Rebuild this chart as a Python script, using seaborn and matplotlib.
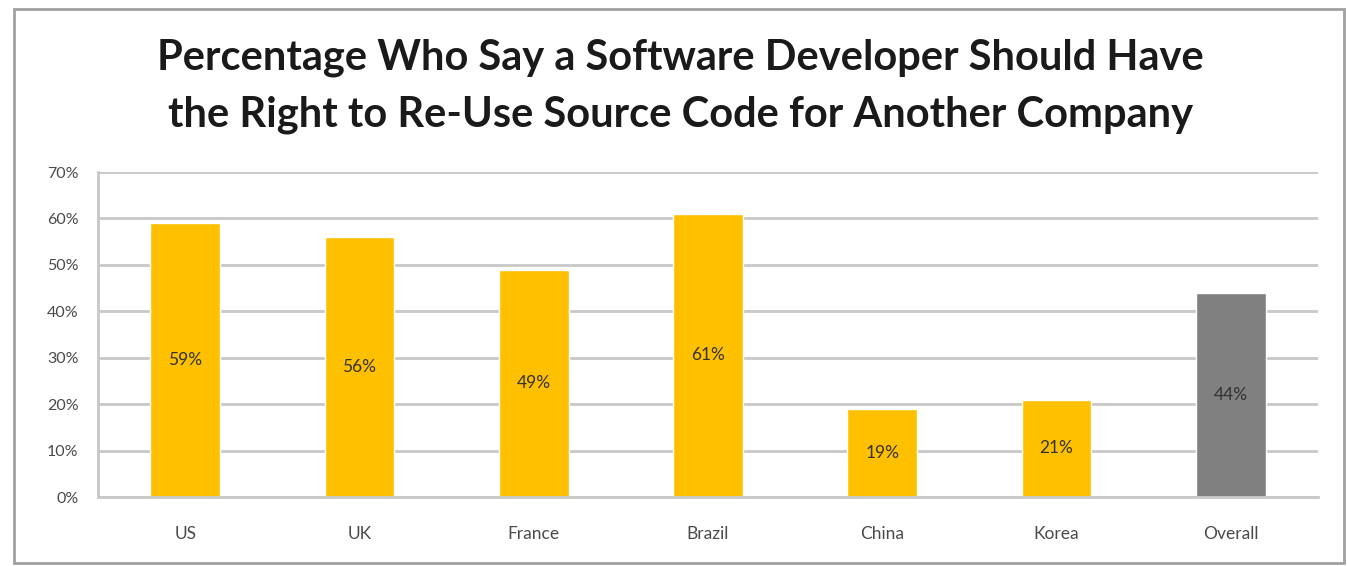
import matplotlib
matplotlib.use("Agg")
import matplotlib.pyplot as plt
import seaborn as sns
import pandas as pd
from matplotlib.patches import Rectangle
from matplotlib.ticker import PercentFormatter

# data
countries = ["US", "UK", "France", "Brazil", "China", "Korea", "Overall"]
percent = [59, 56, 49, 61, 19, 21, 44]
group = ["country", "country", "country", "country", "country", "country", "overall"]
yticks = [0, 10, 20, 30, 40, 50, 60, 70]

df = pd.DataFrame({"Country": countries, "Percent": percent, "Group": group})

sns.set_style("white")
plt.rcParams["font.family"] = ["Lato", "DejaVu Sans"]

fig = plt.figure(figsize=(13.47, 5.66), dpi=100)
ax = fig.add_axes([0.0728, 0.1219, 0.9057, 0.5742])

sns.barplot(
    data=df, x="Country", y="Percent", hue="Group",
    palette={"country": "#FFC000", "overall": "#808080"},
    saturation=1, dodge=False, width=0.4, legend=False, ax=ax
)

for cont in ax.containers:
    ax.bar_label(cont, labels=[f"{v:.0f}%" for v in cont.datavalues],
                 label_type="center", fontsize=12.5, color="#333333")

ax.set_xlim(-0.5, len(countries) - 0.5)
ax.set_ylim(0, 70)
ax.set_yticks(yticks)
ax.yaxis.set_major_formatter(PercentFormatter(decimals=0))
ax.set_xlabel("")
ax.set_ylabel("")

ax.grid(axis="y", color="#c8c8c8", linewidth=2)
ax.set_axisbelow(True)
for s in ["top", "right"]:
    ax.spines[s].set_visible(False)
for s in ["left", "bottom"]:
    ax.spines[s].set_color("#c8c8c8")
    ax.spines[s].set_linewidth(2)

ax.tick_params(axis="y", length=6, width=2, color="#c8c8c8", labelsize=11.5,
               labelcolor="#4a4a4a", pad=8)
ax.tick_params(axis="x", which="major", length=0, labelsize=12.5,
               labelcolor="#4a4a4a", pad=21)
ax.set_xticks([i + 0.5 for i in range(-1, len(countries))], minor=True)
ax.tick_params(axis="x", which="minor", length=6, width=2, color="#c8c8c8")

fig.text(0.505, 0.848,
         "Percentage Who Say a Software Developer Should Have\n"
         "the Right to Re-Use Source Code for Another Company",
         ha="center", va="center", fontsize=30, fontweight="bold",
         color="#1a1a1a", linespacing=1.6)

# outer chart frame
fig.patches.append(Rectangle((14 / 1347, 1 - 563 / 566), 1330 / 1347, 554 / 566,
                             transform=fig.transFigure, fill=False,
                             edgecolor="#a0a0a0", linewidth=2))

fig.savefig("out.png", dpi=100)
